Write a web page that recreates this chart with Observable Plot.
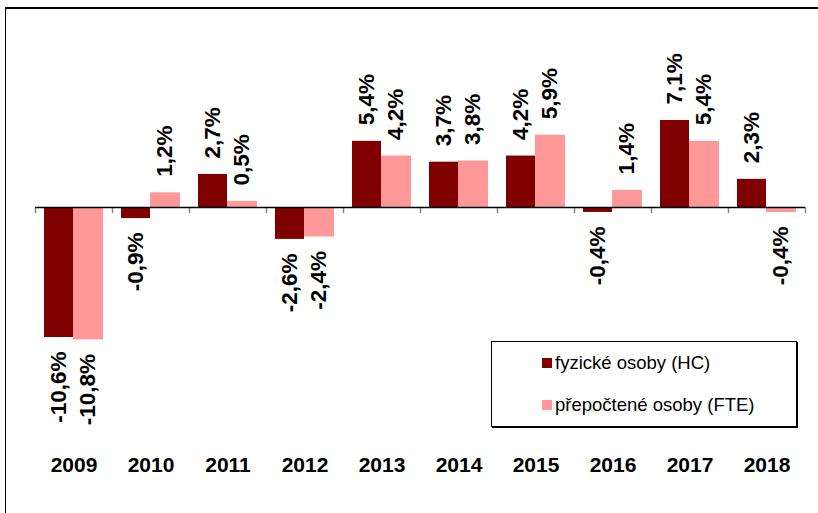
<!DOCTYPE html>
<html>
<head>
<meta charset="utf-8">
<script src="https://cdn.jsdelivr.net/npm/d3@7"></script>
<script src="https://cdn.jsdelivr.net/npm/@observablehq/plot@0.6"></script>
<style>
  html, body { margin: 0; padding: 0; background: #fff; }
  #wrap { position: relative; width: 818px; height: 513px; overflow: hidden; font-family: Arial, "Liberation Sans", sans-serif; }
  #frame { position: absolute; left: 5px; top: 7px; width: 830px; height: 530px; border-left: 1.5px solid #000; border-top: 2px solid #000; }
  #chart { position: absolute; left: 0; top: 0; }
  #legend { position: absolute; left: 491px; top: 341px; width: 304px; height: 84px; border: 1px solid #000; box-shadow: 1px 1px 0 #000; background: #fff; }
  .item { position: absolute; left: 50px; display: flex; align-items: center; font-size: 18.5px; color: #000; white-space: nowrap; }
  .sw { width: 10px; height: 10px; margin-right: 3px; }
</style>
</head>
<body>
<div id="wrap">
  <div id="frame"></div>
  <div id="chart"></div>
  <div id="legend"></div>
</div>
<script>
const years = [2009, 2010, 2011, 2012, 2013, 2014, 2015, 2016, 2017, 2018];
const hcValues = [-10.6, -0.9, 2.7, -2.6, 5.4, 3.7, 4.2, -0.4, 7.1, 2.3];
const fteValues = [-10.8, 1.2, 0.5, -2.4, 4.2, 3.8, 5.9, 1.4, 5.4, -0.4];
const seriesNames = ["fyzické osoby (HC)", "přepočtené osoby (FTE)"];
const seriesColors = ["#800000", "#FF9999"];

const rows = years.map((year, i) => ({year, hc: hcValues[i], fte: fteValues[i]}));
const fmt = v => v.toFixed(1).replace(".", ",") + "%";
const labelStyle = {fontSize: 22.5, fontWeight: "bold", fill: "#000", rotate: -90};

function labels(key, dx) {
  return [
    Plot.text(rows.filter(d => d[key] >= 0), {x: "year", y: key, text: d => fmt(d[key]), textAnchor: "start", dx, dy: -16, ...labelStyle}),
    Plot.text(rows.filter(d => d[key] < 0), {x: "year", y: key, text: d => fmt(d[key]), textAnchor: "end", dx, dy: 14, ...labelStyle})
  ];
}

const chart = Plot.plot({
  width: 818,
  height: 513,
  marginLeft: 35,
  marginRight: 13,
  marginTop: 8,
  marginBottom: 56,
  x: {domain: years, padding: 0, axis: null},
  y: {domain: [-10.6, 7.1], range: [337, 120], axis: null},
  style: {fontFamily: "Arial, 'Liberation Sans', sans-serif", background: "transparent", overflow: "visible"},
  marks: [
    Plot.barY(rows, {x: "year", y: "hc", fill: seriesColors[0], insetLeft: 9, insetRight: 39}),
    Plot.barY(rows, {x: "year", y: "fte", fill: seriesColors[1], insetLeft: 38, insetRight: 9}),
    Plot.ruleX(years, {x: d => d, y1: 0, y2: -0.5, dx: -38.5, stroke: "#888", strokeWidth: 1.5}),
    Plot.ruleX(years.slice(-1), {x: d => d, y1: 0, y2: -0.5, dx: 38.5, stroke: "#888", strokeWidth: 1.5}),
    Plot.ruleY([0], {stroke: "#000", strokeWidth: 1.5}),
    ...labels("hc", -15),
    ...labels("fte", 14),
    Plot.text(years, {x: d => d, frameAnchor: "bottom", lineAnchor: "top", text: d => String(d), fontSize: 21, fontWeight: "bold", fill: "#000"})
  ]
});
document.getElementById("chart").appendChild(chart);

const legend = document.getElementById("legend");
seriesNames.forEach((name, i) => {
  const item = document.createElement("div");
  item.className = "item";
  item.style.top = (i === 0 ? 10 : 52) + "px";
  const sw = document.createElement("span");
  sw.className = "sw";
  sw.style.background = seriesColors[i];
  const t = document.createElement("span");
  t.textContent = name;
  item.appendChild(sw);
  item.appendChild(t);
  legend.appendChild(item);
});
</script>
</body>
</html>
